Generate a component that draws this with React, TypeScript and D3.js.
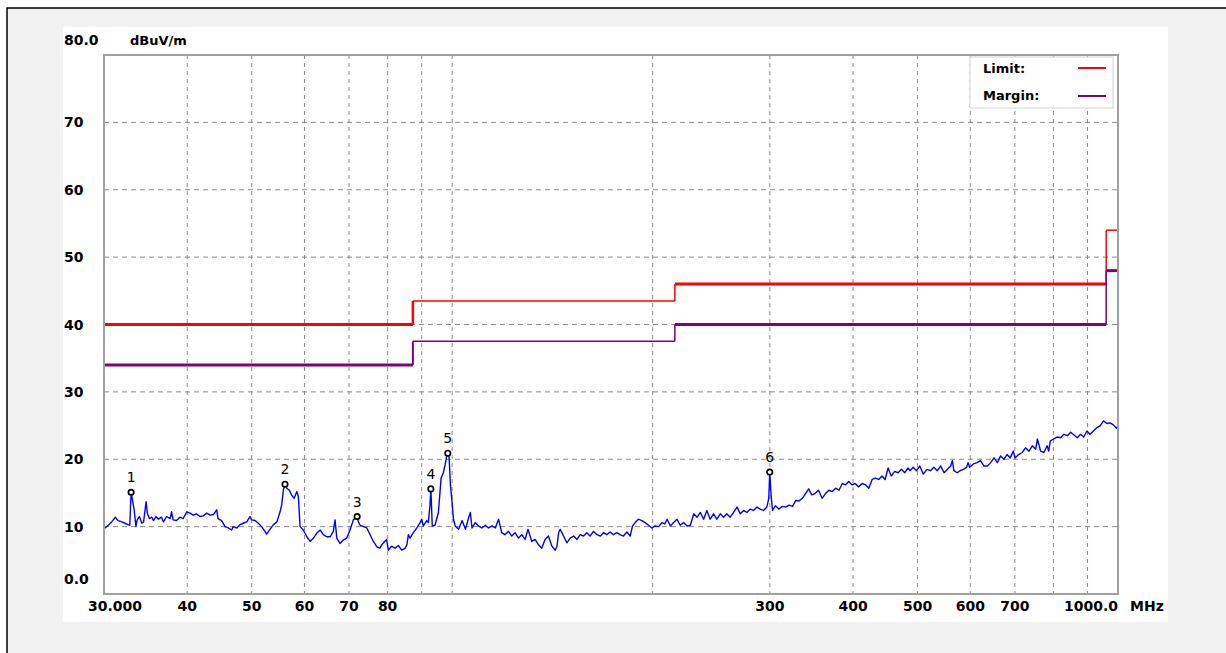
import React from 'react';
import * as d3 from 'd3';

// ---- Data ----
const traceFreq = [
  30.0, 30.1, 30.45, 30.8, 31.2, 31.35, 31.5, 31.9, 32.25, 32.6, 32.8, 32.95, 33.3, 33.5, 33.65, 33.9, 34.2, 34.4, 34.7, 34.85,
  35.1, 35.4, 35.6, 35.9, 36.2, 36.6, 36.85, 37.25, 37.7, 37.9, 38.1, 38.55, 39.0, 39.45, 39.95, 40.4, 40.85, 41.3, 41.8, 42.3,
  42.8, 43.3, 43.8, 44.3, 44.5, 45.05, 45.6, 46.1, 46.65, 46.9, 47.5, 48.0, 48.55, 49.15, 49.7, 50.0, 50.6, 51.15, 51.75, 52.35,
  52.65, 53.25, 53.9, 54.55, 55.15, 55.45, 55.8, 56.1, 56.45, 56.95, 57.4, 57.9, 58.45, 58.75, 59.1, 59.75, 60.5, 61.2, 61.9, 62.6,
  63.35, 64.05, 64.8, 65.6, 66.3, 66.7, 67.1, 67.85, 68.65, 69.45, 70.25, 71.05, 72.0, 72.3, 72.75, 73.6, 74.45, 75.3, 76.15, 77.1,
  77.9, 78.4, 79.7, 80.2, 81.1, 82.1, 83.0, 84.0, 85.0, 85.5, 85.95, 86.45, 87.45, 88.5, 89.5, 90.0, 90.5, 91.6, 92.1, 92.6,
  92.9, 93.35, 94.25, 95.35, 96.25, 97.0, 97.6, 98.15, 98.5, 98.95, 99.4, 99.85, 100.45, 101.05, 102.25, 103.5, 104.7, 105.9, 106.5, 107.1,
  108.3, 109.5, 110.8, 112.1, 113.4, 114.8, 116.1, 117.4, 118.7, 120.0, 121.5, 122.9, 124.3, 125.8, 127.2, 128.7, 130.0, 131.7, 133.2, 134.8,
  136.3, 137.9, 139.5, 141.2, 142.8, 143.7, 144.5, 145.3, 147.0, 148.7, 150.4, 152.2, 154.0, 155.7, 157.5, 159.3, 161.1, 163.0, 165.0, 166.9,
  168.8, 170.7, 172.7, 174.7, 176.7, 178.7, 180.8, 183.0, 185.1, 186.6, 188.3, 190.4, 192.7, 194.9, 197.2, 199.5, 201.8, 204.2, 206.7, 208.6,
  210.3, 212.7, 215.1, 217.6, 220.0, 222.6, 225.3, 227.9, 230.6, 233.3, 235.9, 238.6, 241.3, 244.1, 246.9, 249.8, 252.7, 255.6, 258.5, 261.5,
  264.6, 267.8, 270.9, 274.0, 277.2, 280.2, 283.5, 286.9, 290.2, 293.5, 296.9, 298.9, 299.9, 301.3, 302.8, 305.8, 309.5, 313.3, 317.0, 320.7,
  324.5, 328.2, 331.9, 335.7, 339.4, 343.1, 346.9, 350.7, 355.0, 359.4, 363.7, 368.0, 372.4, 376.7, 381.0, 385.4, 389.7, 394.0, 398.4, 402.9,
  407.8, 412.8, 417.6, 422.4, 427.4, 432.2, 437.1, 442.1, 446.9, 451.6, 456.5, 461.9, 467.4, 472.9, 478.4, 483.8, 487.1, 492.5, 498.1, 503.8,
  510.0, 516.5, 522.8, 529.0, 535.5, 541.7, 548.0, 554.4, 560.7, 563.9, 566.9, 573.4, 579.6, 585.9, 592.4, 595.4, 598.6, 606.6, 614.2, 621.6,
  629.0, 636.5, 643.9, 651.3, 658.9, 666.4, 673.8, 681.4, 688.8, 696.2, 700.5, 709.1, 717.9, 726.4, 735.0, 743.8, 752.3, 756.7, 765.3, 773.8,
  782.6, 786.8, 791.2, 799.7, 809.9, 819.7, 829.4, 839.4, 849.1, 858.8, 868.8, 878.5, 888.2, 898.1, 907.8, 918.6, 929.7, 940.5, 951.3, 962.4,
  973.2, 984.0, 995.0, 1000.0,
];
const traceLevel = [
  10.0, 9.8, 10.2, 10.7, 11.4, 11.1, 10.9, 10.7, 10.5, 10.3, 10.2, 15.1, 12.5, 10.0, 11.0, 11.5, 10.5, 10.7, 13.7, 12.0,
  11.2, 11.4, 10.9, 11.5, 11.1, 11.4, 10.7, 11.5, 11.2, 12.2, 11.0, 10.9, 11.4, 11.2, 12.2, 12.0, 11.7, 11.9, 11.5, 11.6,
  12.0, 11.7, 11.8, 12.5, 11.2, 10.9, 10.0, 9.8, 9.5, 10.0, 9.8, 10.3, 10.5, 10.7, 11.5, 11.0, 10.9, 10.5, 10.0, 9.3,
  8.9, 9.6, 10.3, 10.7, 12.2, 13.2, 15.5, 16.3, 15.7, 15.4, 14.7, 14.2, 15.2, 14.5, 10.0, 9.5, 8.5, 7.8, 8.3, 9.0,
  9.5, 8.8, 8.5, 8.5, 9.3, 11.0, 8.3, 7.5, 8.0, 8.3, 9.5, 11.0, 11.5, 10.7, 10.2, 10.0, 9.8, 8.8, 7.8, 7.0,
  6.8, 7.3, 8.1, 6.5, 7.1, 6.8, 7.2, 6.5, 6.8, 7.3, 8.8, 8.3, 9.1, 9.8, 10.6, 11.1, 10.1, 10.9, 10.6, 13.1,
  15.6, 10.1, 10.2, 12.1, 17.2, 18.0, 19.2, 20.5, 20.9, 20.3, 16.2, 14.2, 11.1, 10.1, 9.6, 10.9, 9.6, 11.4, 12.1, 9.8,
  10.6, 10.1, 9.8, 10.2, 9.8, 10.1, 9.8, 11.1, 9.1, 8.8, 9.3, 8.6, 9.1, 8.3, 8.8, 8.1, 9.6, 7.8, 8.1, 7.3,
  6.8, 8.1, 8.6, 7.1, 6.5, 7.1, 9.1, 9.6, 8.6, 7.6, 8.3, 8.6, 8.1, 8.8, 8.6, 9.1, 8.6, 9.3, 8.8, 8.6,
  9.1, 8.8, 9.2, 8.8, 9.1, 8.8, 8.6, 9.2, 8.6, 10.1, 10.6, 11.1, 10.9, 10.6, 10.2, 9.8, 10.1, 10.0, 10.6, 10.4,
  11.1, 10.1, 10.6, 11.1, 10.2, 10.6, 10.1, 10.2, 11.9, 11.4, 12.1, 11.1, 12.4, 11.1, 11.9, 11.1, 11.9, 11.4, 11.9, 11.4,
  12.1, 12.9, 11.9, 12.4, 12.1, 12.6, 12.4, 12.9, 12.6, 12.4, 12.9, 14.2, 18.1, 14.7, 12.4, 13.1, 12.6, 13.0, 12.9, 13.2,
  13.0, 13.9, 13.8, 14.2, 14.9, 15.6, 14.7, 14.9, 15.4, 14.2, 14.9, 15.4, 15.2, 15.7, 15.4, 16.4, 16.2, 16.7, 16.2, 16.4,
  15.9, 16.4, 16.2, 15.7, 17.0, 17.2, 17.0, 17.5, 17.0, 18.7, 17.5, 18.2, 18.0, 18.5, 18.0, 18.7, 18.3, 18.8, 18.3, 19.0,
  17.8, 18.5, 18.3, 18.8, 18.3, 19.0, 18.0, 18.5, 19.0, 19.8, 18.3, 18.0, 18.3, 18.5, 18.8, 19.5, 18.8, 19.3, 19.5, 19.8,
  19.0, 19.0, 19.5, 20.2, 19.5, 20.5, 20.0, 20.7, 20.2, 21.2, 20.2, 20.7, 21.0, 21.7, 21.2, 22.0, 21.5, 23.0, 21.2, 21.0,
  22.0, 21.2, 22.7, 23.0, 23.3, 23.2, 23.7, 23.5, 24.0, 23.6, 23.2, 23.7, 23.3, 24.2, 23.7, 24.2, 24.7, 25.0, 25.7, 25.3,
  25.4, 25.1, 24.6, 25.0,
];

const markerFreq = [32.95, 56.1, 72.0, 92.9, 98.5, 299.9];
const markerLevel = [15.1, 16.3, 11.5, 15.6, 20.9, 18.1];
const markerLabels = ['1', '2', '3', '4', '5', '6'];

const limitBreaks = [30, 87.3, 216, 960, 1000];
const limitLevels = [40, 43.5, 46, 54];
const marginLevels = [34, 37.5, 40, 48];

const yTickVals = [80, 70, 60, 50, 40, 30, 20, 10, 0];
const yTickLabels = ['80.0', '70', '60', '50', '40', '30', '20', '10', '0.0'];
const yGridVals = [10, 20, 30, 40, 50, 60, 70];

const xGridVals = [40, 50, 60, 70, 80, 90, 100, 200, 300, 400, 500, 600, 700, 800, 900];
const xTickVals = [30, 40, 50, 60, 70, 80, 300, 400, 500, 600, 700, 1000];
const xTickLabels = ['30.000', '40', '50', '60', '70', '80', '300', '400', '500', '600', '700', '1000.0'];

const unitY = 'dBuV/m';
const unitX = 'MHz';
const legendNames = ['Limit:', 'Margin:'];

// ---- Styles ----
const FONT = '"DejaVu Sans", Verdana, sans-serif';
const RED = '#ff0000';
const PURPLE = '#800080';
const BLUE = '#0000ff';
const limitWidths = [3, 1.5, 3, 1.5];
const marginWidths = [3, 1.5, 3, 3];

export default function App() {
  const W = 1226;
  const H = 653;
  const left = 104, right = 1118, top = 55, bottom = 594;
  const x = d3.scaleLog().domain([30, 1000]).range([left, right]);
  const y = d3.scaleLinear().domain([0, 80]).range([bottom, top]);

  const pts = traceFreq.map((f, i) => [f, traceLevel[i]] as [number, number]);
  const line = d3
    .line<[number, number]>()
    .x((d) => x(d[0]))
    .y((d) => y(d[1]));
  const tracePath = line(pts) || '';

  const steps = (levels: number[], widths: number[], color: string, vWidths: number[]) => {
    const els: React.ReactNode[] = [];
    levels.forEach((lv, i) => {
      els.push(
        <line
          key={'h' + i}
          x1={x(limitBreaks[i])}
          x2={x(limitBreaks[i + 1])}
          y1={y(lv)}
          y2={y(lv)}
          stroke={color}
          strokeWidth={widths[i]}
        />
      );
      if (i > 0) {
        els.push(
          <line
            key={'v' + i}
            x1={x(limitBreaks[i])}
            x2={x(limitBreaks[i])}
            y1={y(levels[i - 1])}
            y2={y(lv)}
            stroke={color}
            strokeWidth={vWidths[i - 1]}
          />
        );
      }
    });
    return els;
  };

  return (
    <svg
      width={W}
      height={H}
      style={{ position: 'absolute', left: 0, top: 0, display: 'block' }}
      fontFamily={FONT}
    >
      <rect x={0} y={0} width={W} height={H} fill="#ffffff" />
      <rect x={7} y={8} width={W} height={H} fill="#f2f2f2" stroke="#000" strokeWidth={1.5} />
      <rect x={63} y={27} width={1105} height={595} fill="#ffffff" />

      {/* grid */}
      {yGridVals.map((v) => (
        <line
          key={'gy' + v}
          x1={left}
          x2={right}
          y1={y(v)}
          y2={y(v)}
          stroke="#8a8a8a"
          strokeWidth={1}
          strokeDasharray="5 4"
        />
      ))}
      {xGridVals.map((v) => (
        <line
          key={'gx' + v}
          x1={x(v)}
          x2={x(v)}
          y1={top}
          y2={bottom}
          stroke="#8a8a8a"
          strokeWidth={1}
          strokeDasharray="4 4"
        />
      ))}

      {/* limit & margin */}
      {steps(limitLevels, limitWidths, RED, [2.5, 1.5, 1.5])}
      {steps(marginLevels, marginWidths, PURPLE, [2, 1.5, 1.5])}

      {/* trace */}
      <path d={tracePath} fill="none" stroke={BLUE} strokeWidth={1.4} strokeLinejoin="round" />

      {/* markers */}
      {markerFreq.map((f, i) => (
        <g key={'m' + i}>
          <circle cx={x(f)} cy={y(markerLevel[i])} r={2.7} fill="#fff" stroke="#000" strokeWidth={1.7} />
          <text
            x={x(f)}
            y={y(markerLevel[i]) - 10}
            textAnchor="middle"
            fontSize={14}
            fill="#000"
          >
            {markerLabels[i]}
          </text>
        </g>
      ))}

      {/* frame */}
      <rect x={left} y={top} width={right - left} height={bottom - top} fill="none" stroke="#a0a0a0" strokeWidth={2} />

      {/* legend */}
      <rect x={970} y={57} width={143} height={51} fill="#fff" stroke="#d4d4d4" strokeWidth={1} />
      <text x={983} y={73} fontSize={13} fontWeight="bold" fill="#000">{legendNames[0]}</text>
      <line x1={1078} x2={1106} y1={68} y2={68} stroke={RED} strokeWidth={2} />
      <text x={983} y={100} fontSize={13} fontWeight="bold" fill="#000">{legendNames[1]}</text>
      <line x1={1078} x2={1106} y1={96} y2={96} stroke={PURPLE} strokeWidth={2} />

      {/* y labels */}
      {yTickVals.map((v, i) => (
        <text
          key={'yl' + v}
          x={64}
          y={i === 0 || i === yTickVals.length - 1 ? y(v) - 10 : y(v) + 5}
          fontSize={14}
          fontWeight="bold"
          fill="#000"
        >
          {yTickLabels[i]}
        </text>
      ))}
      <text x={130} y={45} fontSize={13} fontWeight="bold" fill="#000">{unitY}</text>

      {/* x labels */}
      {xTickVals.map((v, i) => {
        const first = i === 0;
        const last = i === xTickVals.length - 1;
        return (
          <text
            key={'xl' + v}
            x={first ? x(v) - 16 : x(v)}
            y={611}
            textAnchor={first ? 'start' : last ? 'end' : 'middle'}
            fontSize={14}
            fontWeight="bold"
            fill="#000"
          >
            {xTickLabels[i]}
          </text>
        );
      })}
      <text x={1130} y={611} fontSize={14} fontWeight="bold" fill="#000">{unitX}</text>
    </svg>
  );
}
